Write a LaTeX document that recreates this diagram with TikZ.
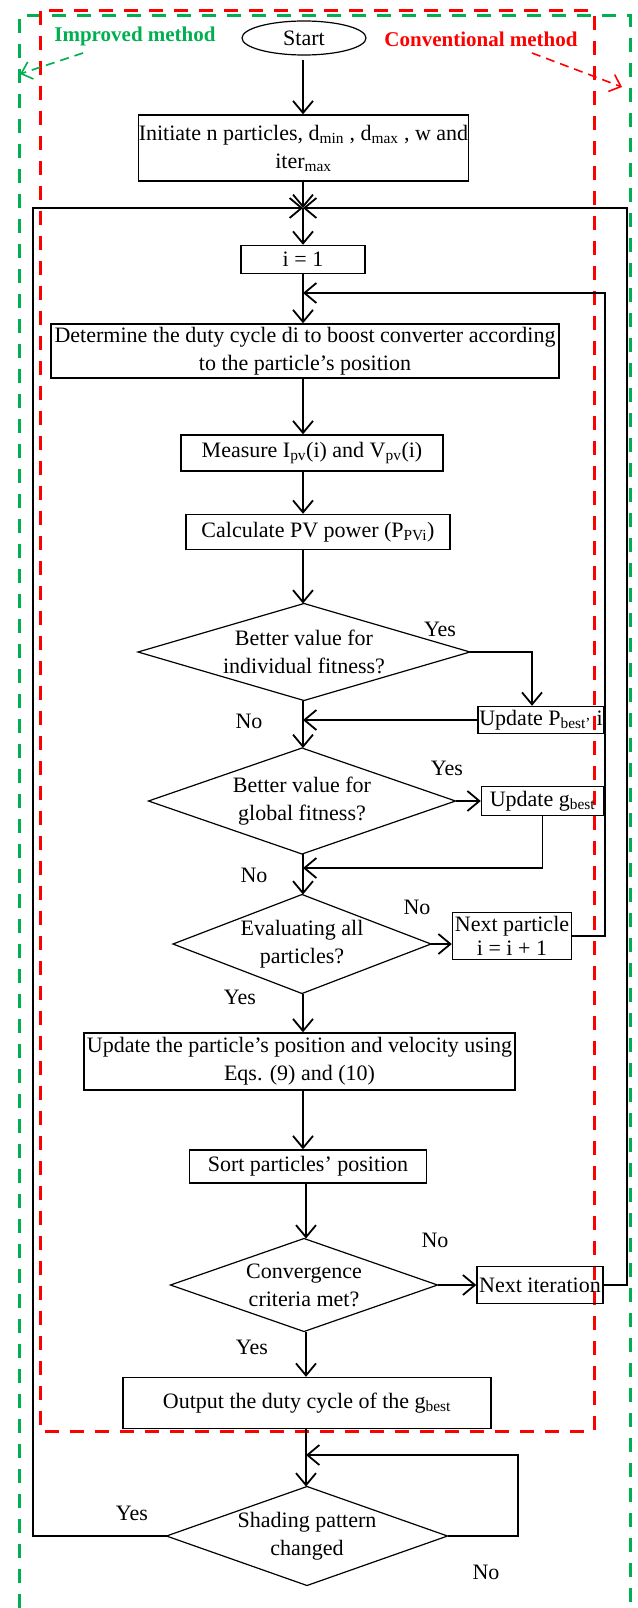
\documentclass[tikz,border=0pt]{standalone}
\usepackage{fontspec}
\setmainfont{Liberation Serif}
\usetikzlibrary{shapes.geometric,arrows.meta,calc}
\definecolor{gr}{HTML}{00B050}
\definecolor{rd}{HTML}{FF0000}
\newcommand{\sbs}[1]{\textsubscript{#1}}
\begin{document}
\begin{tikzpicture}[x=1pt,y=-1pt,
  font=\fontsize{22}{28}\selectfont,
  box/.style={draw, line width=1.4pt, inner sep=0pt, align=center},
  dia/.style={draw, diamond, line width=1.2pt, inner sep=0pt, outer sep=0pt},
  dtext/.style={inner sep=0pt, align=center},
  ell/.style={draw, ellipse, line width=1.2pt, inner sep=0pt},
  arr/.style={line width=1.8pt, -{Straight Barb[length=12pt,width=20pt,line width=1.8pt]}},
  lbl/.style={inner sep=0pt},
  frame/.style={line width=3pt, dash pattern=on 14pt off 11pt},
  annot/.style={line width=1.6pt, dash pattern=on 9pt off 6pt, -{Straight Barb[length=10pt,width=18pt,line width=1.6pt]}},
  title/.style={inner sep=0pt, font=\bfseries\fontsize{21}{25}\selectfont}]
\useasboundingbox (0,0) rectangle (637,1608);
% frames
\draw[frame, gr] (19,1608) -- (19,16) -- (630,16) -- (630,1608);
\draw[frame, rd] (40,11) rectangle (594,1431);
% titles
\node[title, text=gr] (imp) at (135,36) {Improved method};
\node[title, text=rd] (conv) at (481,39) {Conventional method};
\coordinate (gs) at (83,53);
\coordinate (gt) at (20,74);
\coordinate (rs) at (532,53);
\coordinate (rt) at (622,87);
\draw[annot, gr] (gs) -- (gt);
\draw[annot, rd] (rs) -- (rt);
% axis coordinates
\coordinate (ax) at (303,0);
\coordinate (bx) at (306,0);
\coordinate (J) at (303,208);
\coordinate (olx) at (33,0);
\coordinate (orx) at (627,0);
\coordinate (irx) at (605,0);
\coordinate (fb1) at (303,293);
\coordinate (c1) at (532,0);
\coordinate (m2) at (303,868);
\coordinate (m5) at (306,1455);
\coordinate (c5) at (518,0);
% nodes
\node[ell, minimum width=124pt, minimum height=34pt] (start) at (304,38) {Start};
\node[box, minimum width=320pt, minimum height=66pt] (init) at (303.5,148) {Initiate n particles, d\sbs{min} , d\sbs{max} , w and\\iter\sbs{max}};
\node[box, minimum width=124pt, minimum height=28pt] (i1) at (303,259.5) {i = 1};
\node[box, minimum width=508pt, minimum height=54pt] (det) at (305,351) {Determine the duty cycle di to boost converter according\\to the particle’s position};
\node[box, minimum width=262pt, minimum height=36pt] (meas) at (312,453) {Measure I\sbs{pv}(i) and V\sbs{pv}(i)};
\node[box, minimum width=264pt, minimum height=35pt] (calc) at (318,532) {Calculate PV power (P\sbs{PVi})};
\node[dia, minimum width=332pt, minimum height=97pt] (d1) at (304,652) {};
\node[dtext] (d1t) at (d1.center) {Better value for\\individual fitness?};
\node[box, minimum width=126pt, minimum height=27pt] (up1) at (541,720) {Update P\sbs{best’} i};
\node[dia, minimum width=307pt, minimum height=106pt] (d2) at (302,801) {};
\node[dtext] (d2t) at (d2.center) {Better value for\\global fitness?};
\node[box, minimum width=122pt, minimum height=29pt] (up2) at (542.5,801) {Update g\sbs{best}};
\node[dia, minimum width=258pt, minimum height=99pt] (d3) at (302,944) {};
\node[dtext] (d3t) at (d3.center) {Evaluating all\\particles?};
\node[box, minimum width=119pt, minimum height=47pt, font=\fontsize{22}{24}\selectfont] (np) at (512,936) {Next particle\\i = i + 1};
\node[box, minimum width=431pt, minimum height=57pt] (upd) at (299.5,1061.5) {Update the particle’s position and velocity using\\Eqs. (9) and (10)};
\node[box, minimum width=237pt, minimum height=33pt] (sort) at (308,1166.5) {Sort particles’ position};
\node[dia, minimum width=267pt, minimum height=93pt] (d4) at (304,1285) {};
\node[dtext] (d4t) at (d4.center) {Convergence\\criteria met?};
\node[box, minimum width=126pt, minimum height=37pt] (ni) at (540,1285) {Next iteration};
\node[box, minimum width=368pt, minimum height=51pt] (out) at (307,1403) {Output the duty cycle of the g\sbs{best}};
\node[dia, minimum width=281pt, minimum height=99pt] (d5) at (307,1536) {};
\node[dtext] (d5t) at (d5.center) {Shading pattern\\changed};
% labels
\node[lbl] (yes1) at (440,629) {Yes};
\node[lbl] (no1) at (249,721) {No};
\node[lbl] (yes2) at (447,768) {Yes};
\node[lbl] (no2) at (254,875) {No};
\node[lbl] (no3) at (417,907) {No};
\node[lbl] (yes3) at (240,997) {Yes};
\node[lbl] (no4) at (435,1240) {No};
\node[lbl] (yes4) at (252,1347) {Yes};
\node[lbl] (yes5) at (132,1513) {Yes};
\node[lbl] (no5) at (486,1572) {No};
% connectors
\draw[arr, shorten <=4pt] (start.south -| ax) -- (init.north -| ax);
\draw[arr] (init.south -| ax) -- (J);
\draw[arr] (J) -- (i1.north -| ax);
\draw[arr] (i1.south -| ax) -- (det.north -| ax);
\draw[arr] (det.south -| ax) -- (meas.north -| ax);
\draw[arr] (meas.south -| ax) -- (calc.north -| ax);
\draw[arr] (calc.south -| ax) -- (d1.north -| ax);
\draw[arr] (d1.east) -| (c1 |- up1.north);
\draw[arr] (up1.west) -- (up1.west -| ax);
\draw[arr] (d1.south -| ax) -- (d2.north -| ax);
\draw[arr] (d2.east) -- (up2.west);
\draw[arr] (up2.south) |- (m2);
\draw[arr] (d2.south -| ax) -- (d3.north -| ax);
\draw[arr] (d3.east) -- (d3.east -| np.west);
\draw[arr] (np.east) -| (irx |- fb1) -- (fb1);
\draw[arr] (d3.south -| ax) -- (upd.north -| ax);
\draw[arr] (upd.south -| ax) -- (sort.north -| ax);
\draw[arr] (sort.south -| bx) -- (d4.north -| bx);
\draw[arr] (d4.east) -- (d4.east -| ni.west);
\draw[arr] (ni.east) -| (orx |- J) -- (J);
\draw[arr] (d4.south -| bx) -- (out.north -| bx);
\draw[arr] (out.south -| bx) -- (d5.north -| bx);
\draw[arr] (d5.east) -| (c5 |- m5) -- (m5);
\draw[arr] (d5.west) -| (olx |- J) -- (J);
\end{tikzpicture}
\end{document}
